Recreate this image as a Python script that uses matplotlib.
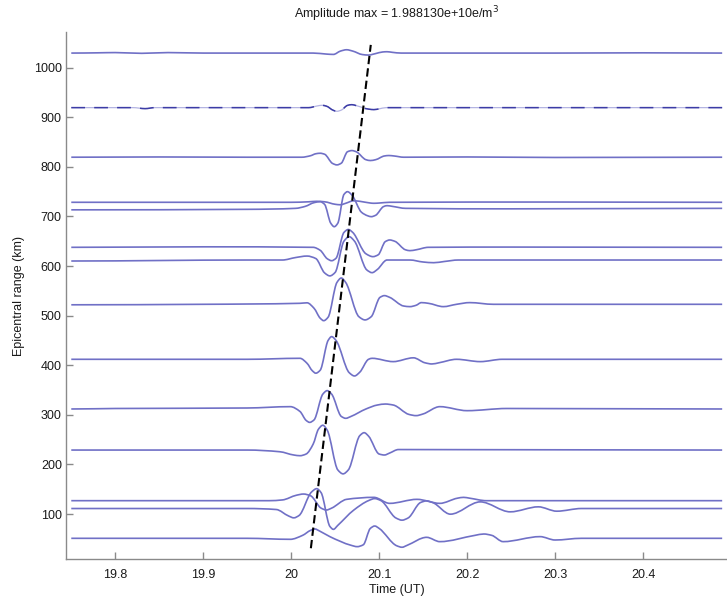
import matplotlib
matplotlib.use("Agg")
import matplotlib.pyplot as plt
from matplotlib.path import Path
from matplotlib.patches import PathPatch
import numpy as np

plt.rcParams['font.family'] = ['Liberation Sans', 'DejaVu Sans']

# epicentral range of each trace (km) and the trace itself:
# times (UT hours) and offsets (km on the y scale)
r1030 = 1029.5
t1030 = [19.75, 19.78, 19.80, 19.83, 19.86, 19.90, 19.95, 20.025, 20.040, 20.048, 20.056, 20.063, 20.070,
         20.081, 20.088, 20.096, 20.104, 20.109, 20.115, 20.125, 20.30, 20.40, 20.49]
a1030 = [0, 0.5, 1, -0.5, 1, 0, 0, 0, -2, -2.7, 4, 6.7, 4, -3, -4, -1, 2.2, 2.7, 1.5, 0, 0, 0.5, 0]

r920 = 919.5
t920 = [19.75, 19.82, 19.834, 19.845, 20.02, 20.030, 20.035, 20.040, 20.048, 20.052, 20.057, 20.064,
        20.069, 20.074, 20.088, 20.094, 20.100, 20.108, 20.49]
a920 = [0, 0, -2, 0, 0, 3.5, 4.7, 3, -5.5, -7.4, -5, 4.5, 6, 4, -3, -4, -2.5, 0, 0]

r819 = 819.5
t819 = [19.75, 19.85, 19.95, 20.012, 20.022, 20.028, 20.033, 20.038, 20.047, 20.052, 20.057, 20.064,
        20.069, 20.074, 20.085, 20.090, 20.096, 20.106, 20.111, 20.117, 20.128, 20.20, 20.30, 20.49]
a819 = [0, 0.5, 0, 0, 3, 7, 8, 6, -12.5, -15.5, -12, 11, 13.4, 11, -5, -6.7, -5, 2.5, 3.4, 2.5, 0,
        0.5, -0.5, 0]

r728 = 728.6
t728 = [19.75, 20.00, 20.020, 20.029, 20.038, 20.050, 20.056, 20.062, 20.071, 20.078, 20.090, 20.094,
        20.100, 20.112, 20.30, 20.49]
a728 = [0, 0, 1, 2, 1, -4, -5, -2, 3, 2, -1.5, -2, -1.5, 0, 0.5, 0]

r716 = 716.4
t716 = [19.75, 19.95, 20.005, 20.016, 20.026, 20.033, 20.038, 20.045, 20.049, 20.053, 20.060, 20.064,
        20.069, 20.080, 20.087, 20.091, 20.096, 20.105, 20.109, 20.115, 20.13, 20.25, 20.49]
a716 = [-3, -2, 0, 4, 11.5, 13.4, 8, -30, -37, -30, 28, 33.6, 27, -8, -15, -16.8, -14, 3.5, 5.4, 4, 0,
        -1, 0]

r638 = 637.8
t638 = [19.75, 19.90, 20.025, 20.033, 20.041, 20.046, 20.051, 20.060, 20.065, 20.070, 20.085, 20.093,
        20.099, 20.107, 20.112, 20.118, 20.130, 20.135, 20.142, 20.156, 20.25, 20.49]
a638 = [0, 1, 0, -6, -23, -27, -22, 30, 36, 30, -13, -18.8, -15, 11.5, 14.8, 12, -5, -6.7, -5, 0, 0.5, 0]

r612 = 612.2
t612 = [19.75, 19.95, 19.99, 20.005, 20.018, 20.028, 20.038, 20.044, 20.050, 20.060, 20.066, 20.072,
        20.086, 20.092, 20.098, 20.109, 20.135, 20.150, 20.162, 20.174, 20.19, 20.49]
a612 = [-2, 0, 0, 5, 8, 3, -26, -32, -25, 38, 47, 38, -20, -25.5, -19, 0, 0, -4, -5.4, -3, 0, 0]

r523 = 522.9
t523 = [19.75, 19.90, 20.010, 20.018, 20.026, 20.033, 20.037, 20.042, 20.052, 20.057, 20.062, 20.077,
        20.084, 20.091, 20.101, 20.106, 20.112, 20.128, 20.135, 20.142, 20.148, 20.156, 20.173, 20.188,
        20.203, 20.23, 20.49]
a523 = [-1, 0, 2, 3, -8, -28, -33, -26, 44, 53, 44, -25, -31.5, -25, 14, 17.5, 14, -3.5, -4.7, -2, 3.4,
        2, -4.7, 0, 3.4, 0, 0]

r412 = 412.0
t412 = [19.75, 19.95, 20.010, 20.018, 20.024, 20.028, 20.033, 20.042, 20.046, 20.051, 20.066, 20.072,
        20.078, 20.088, 20.092, 20.116, 20.139, 20.152, 20.160, 20.168, 20.188, 20.215, 20.24, 20.49]
a412 = [0, 0, 2, -8, -23, -28, -22, 38, 45.7, 38, -27, -33.6, -26, 0, 2, -4.7, 3, -7, -9.4, -7, 0,
        -4.7, 0, 0]

r312 = 311.8
t312 = [19.75, 19.80, 19.95, 19.999, 20.010, 20.017, 20.021, 20.026, 20.036, 20.041, 20.046, 20.057,
        20.062, 20.068, 20.085, 20.098, 20.107, 20.116, 20.134, 20.142, 20.150, 20.169, 20.200, 20.245,
        20.49]
a312 = [0, 1, 2, 4.7, -5, -23, -27, -22, 30, 37, 30, -15, -18.8, -15, 0, 8, 10, 8, -11, -13.4, -10, 4.7,
        -3.4, 1, 0]

r229 = 229.0
t229 = [19.75, 19.95, 19.987, 20.003, 20.010, 20.017, 20.025, 20.031, 20.036, 20.041, 20.053, 20.059,
        20.065, 20.078, 20.083, 20.088, 20.100, 20.106, 20.112, 20.122, 20.49]
a229 = [0, 0, -3.4, -10, -11.4, -8, 12, 42, 50, 40, -40, -48, -40, 29, 35, 28, -8, -10, -6, 1, 0]

r127 = 126.9
t127 = [19.75, 19.975, 19.990, 20.006, 20.014, 20.022, 20.034, 20.040, 20.046, 20.063, 20.094, 20.112,
        20.143, 20.169, 20.189, 20.196, 20.203, 20.222, 20.49]
a127 = [0, 0, 1.5, 11, 13.4, 10, -15, -18.8, -15, 2.7, 6.7, -5.4, 2.7, -5.4, 5, 6.7, 5, 0, 0]

r111 = 111.1
t111 = [19.75, 19.95, 19.983, 19.997, 20.003, 20.009, 20.023, 20.029, 20.034, 20.044, 20.048, 20.053,
        20.071, 20.088, 20.095, 20.102, 20.119, 20.126, 20.133, 20.147, 20.154, 20.161, 20.181, 20.215,
        20.249, 20.281, 20.302, 20.33, 20.49]
a111 = [0, 0, -2, -15, -18.8, -14, 33, 40, 32, -36, -42, -34, -3.4, 16, 20, 16, -19, -23.5, -19, 12,
        15.4, 12, -11.4, 13.4, -6.7, 3.4, -5.4, 0, 0]

r51 = 51.0
t51 = [19.75, 19.95, 19.999, 20.013, 20.022, 20.027, 20.032, 20.044, 20.068, 20.075, 20.082, 20.090,
       20.095, 20.100, 20.120, 20.126, 20.132, 20.154, 20.169, 20.209, 20.219, 20.228, 20.241, 20.283,
       20.300, 20.33, 20.49]
a51 = [0, 0, -2, 6, 16, 18.8, 15, 3.4, -14, -16.8, -13, 20, 24.8, 20, -15, -18, -14, 2, -6.7, 6, 8.7, 6,
       -6.7, 3.4, -3.4, 0, 0]

# moveout line
move_t = [20.0224, 20.0905]
move_r = [31, 1046]

xtick_vals = [19.8, 19.9, 20.0, 20.1, 20.2, 20.3, 20.4]
xtick_labels = ['19.8', '19.9', '20', '20.1', '20.2', '20.3', '20.4']
ytick_vals = [100, 200, 300, 400, 500, 600, 700, 800, 900, 1000]

traces = [
    (r1030, t1030, a1030), (r920, t920, a920), (r819, t819, a819),
    (r728, t728, a728), (r716, t716, a716), (r638, t638, a638),
    (r612, t612, a612), (r523, t523, a523), (r412, t412, a412),
    (r312, t312, a312), (r229, t229, a229), (r127, t127, a127),
    (r111, t111, a111), (r51, t51, a51),
]


def smooth_path(x, y):
    # bezier path through the points (monotone hermite tangents), so the
    # wiggles are drawn round instead of as a zigzag
    x = np.asarray(x, float)
    y = np.asarray(y, float)
    h = np.diff(x)
    d = np.diff(y) / h
    m = np.zeros(len(x))
    for k in range(1, len(x) - 1):
        if d[k - 1] * d[k] > 0:
            w1 = 2 * h[k] + h[k - 1]
            w2 = h[k] + 2 * h[k - 1]
            m[k] = (w1 + w2) / (w1 / d[k - 1] + w2 / d[k])
    verts = [(x[0], y[0])]
    codes = [Path.MOVETO]
    for k in range(len(x) - 1):
        verts += [(x[k] + h[k] / 3, y[k] + m[k] * h[k] / 3),
                  (x[k + 1] - h[k] / 3, y[k + 1] - m[k + 1] * h[k] / 3),
                  (x[k + 1], y[k + 1])]
        codes += [Path.CURVE4] * 3
    return Path(verts, codes)


fig = plt.figure(figsize=(7.27, 6.02), dpi=100)
ax = fig.add_axes([66 / 727, 43 / 602, 661 / 727, 527 / 602])

col = '#7070c6'
for r, t, a in traces:
    p = smooth_path(t, r + np.array(a))
    if r == r920:
        # this one renders broken up in the original
        ax.add_patch(PathPatch(p, facecolor='none', edgecolor='#b4b4e2', lw=0.9))
        ax.add_patch(PathPatch(p, facecolor='none', edgecolor='#3c3ca6', lw=1.1,
                               linestyle=(0, (9, 6))))
    else:
        ax.add_patch(PathPatch(p, facecolor='none', edgecolor=col, lw=1.2))

ax.plot(move_t, move_r, color='black', lw=1.5, dashes=(4, 2))

ax.set_xlim(19.744, 20.4955)
ax.set_ylim(9.3, 1072)
ax.set_xticks(xtick_vals)
ax.set_xticklabels(xtick_labels)
ax.set_yticks(ytick_vals)

for s in ['top', 'right']:
    ax.spines[s].set_visible(False)
for s in ['left', 'bottom']:
    ax.spines[s].set_color('#8a8a8a')
    ax.spines[s].set_linewidth(1.0)
ax.tick_params(direction='in', length=5, width=1, color='#8a8a8a',
               labelsize=9, labelcolor='#1a1a1a')
ax.tick_params(axis='x', pad=7)
ax.tick_params(axis='y', pad=3)

ax.set_xlabel('Time (UT)', fontsize=9, color='#1a1a1a', labelpad=2)
ax.set_ylabel('Epicentral range (km)', fontsize=9, color='#1a1a1a', labelpad=6)
ax.set_title('Amplitude max = 1.988130e+10e/m$^3$', fontsize=9, color='#1a1a1a', pad=10)

fig.savefig('out.png', dpi=100)
